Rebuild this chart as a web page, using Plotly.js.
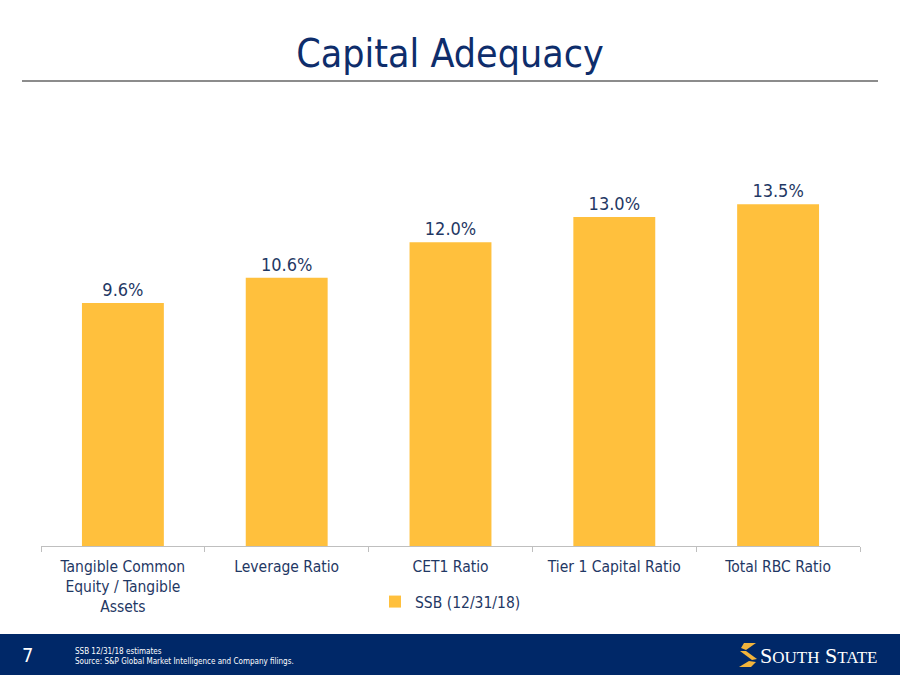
<!DOCTYPE html>
<html><head><meta charset="utf-8">
<script src="https://cdn.plot.ly/plotly-3.0.1.min.js"></script>
<style>body{margin:0;background:#fff}#c{width:900px;height:695px}</style>
</head><body><div id="c"></div>
<script>
const categories = ["Tangible Common<br>Equity / Tangible<br>Assets", "Leverage Ratio", "CET1 Ratio", "Tier 1 Capital Ratio", "Total RBC Ratio"];
const values = [9.6, 10.6, 12.0, 13.0, 13.5];
const seriesName = "SSB (12/31/18)";
const footNote1 = "SSB 12/31/18 estimates";
const footNote2 = "Source: S&P Global Market Intelligence and Company filings.";

const L = 41, R = 860, T = 141, B = 546;
const px = x => (x - L) / (R - L);
const py = y => (B - y) / (B - T);
const navy = "#0E2D6B";
const txt = "#1F3864";
const gold = "#FFC03D";
const F = "DejaVu Sans Condensed, DejaVu Sans, sans-serif";

const trace = {
  type: "bar", x: categories, y: values, name: seriesName,
  marker: {color: gold}, width: 0.5,
  text: values.map(v => v.toFixed(1) + "%"), textposition: "outside",
  textfont: {family: F, size: 18, color: txt}, cliponaxis: false,
  hoverinfo: "none"
};

const shapes = [
  {type: "line", xref: "paper", yref: "paper", x0: px(22), x1: px(878), y0: py(81), y1: py(81), line: {color: "#8C8C8C", width: 2}},
  {type: "rect", xref: "paper", yref: "paper", x0: px(0), x1: px(900), y0: py(634), y1: py(675), fillcolor: "#002868", line: {width: 0}, layer: "above"},
  {type: "path", xref: "paper", yref: "paper", layer: "above", fillcolor: "#F2B43C", line: {width: 0},
   path: `M ${px(744)} ${py(643)} L ${px(756)} ${py(643)} L ${px(746)} ${py(650)} L ${px(741)} ${py(648)} Z`},
  {type: "path", xref: "paper", yref: "paper", layer: "above", fillcolor: "#F2B43C", line: {width: 0},
   path: `M ${px(740)} ${py(651)} L ${px(746)} ${py(651)} L ${px(757)} ${py(659)} L ${px(752)} ${py(660)} Z`},
  {type: "path", xref: "paper", yref: "paper", layer: "above", fillcolor: "#F2B43C", line: {width: 0},
   path: `M ${px(756)} ${py(662)} L ${px(751)} ${py(667)} L ${px(739)} ${py(667)} L ${px(749)} ${py(661)} Z`}
];

const annotations = [
  {xref: "paper", yref: "paper", x: px(27), y: py(655), text: "7", showarrow: false, xanchor: "center", yanchor: "middle", font: {family: F, size: 20, color: "#fff"}},
  {xref: "paper", yref: "paper", x: px(73), y: py(651), text: footNote1, showarrow: false, xanchor: "left", yanchor: "middle", font: {family: F, size: 8, color: "#fff"}},
  {xref: "paper", yref: "paper", x: px(73), y: py(661), text: footNote2, showarrow: false, xanchor: "left", yanchor: "middle", font: {family: F, size: 8, color: "#fff"}},
  {xref: "paper", yref: "paper", x: px(879), y: py(655), text: "S<span style='font-size:17px'>OUTH</span> S<span style='font-size:17px'>TATE</span>", showarrow: false, xanchor: "right", yanchor: "middle", font: {family: "Liberation Serif, DejaVu Serif, serif", size: 22, color: "#fff"}}
];

const layout = {
  width: 900, height: 695,
  margin: {l: L, r: 900 - R, t: T, b: 695 - B, pad: 0},
  paper_bgcolor: "#fff", plot_bgcolor: "#fff",
  title: {text: "Capital Adequacy", x: 0.5, xanchor: "center", y: 1 - 53 / 695, yanchor: "middle", yref: "container",
          font: {family: F, size: 39, color: navy}},
  xaxis: {type: "category", showline: true, linecolor: "#BFBFBF", linewidth: 1, ticks: "outside", tickson: "boundaries",
          ticklen: 5, tickcolor: "#BFBFBF", ticklabelstandoff: 6, tickfont: {family: F, size: 15.5, color: txt}, showgrid: false, fixedrange: true},
  yaxis: {range: [0, 16], visible: false, showgrid: false, zeroline: false, fixedrange: true},
  showlegend: true,
  legend: {orientation: "h", x: 0.5, xanchor: "center", y: py(602), yanchor: "middle", yref: "paper",
           font: {family: F, size: 15.5, color: txt}, itemwidth: 30, itemsizing: "constant"},
  bargap: 0.5,
  shapes: shapes, annotations: annotations
};

Plotly.newPlot("c", [trace], layout, {displayModeBar: false, staticPlot: true});
</script>
</body></html>
